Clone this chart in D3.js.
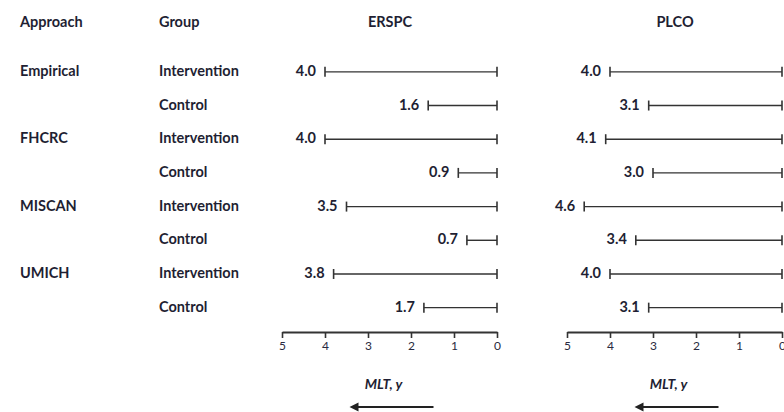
<!DOCTYPE html>
<html>
<head>
<meta charset="utf-8">
<script src="https://cdn.jsdelivr.net/npm/d3@7"></script>
<style>
  body { margin: 0; background: #fff; }
  text { font-family: Lato, "Open Sans", sans-serif; font-weight: bold; fill: #1f1f33; }
</style>
</head>
<body>
<div id="chart"></div>
<script>
var approaches = ["Empirical", "FHCRC", "MISCAN", "UMICH"];
var groups = ["Intervention", "Control"];
var trials = ["ERSPC", "PLCO"];
var valoresERSPC = [4.0, 1.6, 4.0, 0.9, 3.5, 0.7, 3.8, 1.7];
var valoresPLCO = [4.0, 3.1, 4.1, 3.0, 4.6, 3.4, 4.0, 3.1];
var ticks = [5, 4, 3, 2, 1, 0];

var width = 784, height = 412;
var tamLetra = "14.5px";
var svg = d3.select("#chart").append("svg")
    .attr("width", width)
    .attr("height", height);

// filas
var filas = [];
approaches.forEach(function (a, i) {
    groups.forEach(function (g, j) {
        filas.push({ approach: j == 0 ? a : "", group: g, idx: i * 2 + j });
    });
});

var y = d3.scaleBand()
    .domain(d3.range(filas.length))
    .range([55, 324.5]);

var escalas = [
    d3.scaleLinear().domain([5, 0]).range([282, 497]),
    d3.scaleLinear().domain([5, 0]).range([567, 782])
];
var datos = [valoresERSPC, valoresPLCO];

// encabezados
svg.append("text").attr("x", 20).attr("y", 27).style("font-size", tamLetra).text("Approach");
svg.append("text").attr("x", 159).attr("y", 27).style("font-size", tamLetra).text("Group");

trials.forEach(function (t, k) {
    svg.append("text")
        .attr("x", k == 0 ? 390 : 675)
        .attr("y", 27)
        .attr("text-anchor", "middle")
        .style("font-size", tamLetra)
        .text(t);
});

var fila = svg.selectAll(".fila")
    .data(filas)
    .enter().append("g")
    .attr("class", "fila")
    .attr("transform", function (d) { return "translate(0," + (y(d.idx) + y.bandwidth() / 2) + ")"; });

fila.append("text")
    .attr("x", 20).attr("dy", "0.28em")
    .style("font-size", tamLetra)
    .text(function (d) { return d.approach; });

fila.append("text")
    .attr("x", 159).attr("dy", "0.28em")
    .style("font-size", tamLetra)
    .text(function (d) { return d.group; });

escalas.forEach(function (x, k) {
    var vals = datos[k];
    var barra = svg.selectAll(".barra" + k)
        .data(vals)
        .enter().append("g")
        .attr("class", "barra" + k)
        .attr("transform", function (d, i) { return "translate(0," + (y(i) + y.bandwidth() / 2) + ")"; });

    barra.append("line")
        .attr("x1", function (d) { return x(d); })
        .attr("x2", x(0))
        .style("stroke", "#333").style("stroke-width", 1.4);
    barra.append("line")
        .attr("x1", function (d) { return x(d); })
        .attr("x2", function (d) { return x(d); })
        .attr("y1", -5).attr("y2", 5)
        .style("stroke", "#333").style("stroke-width", 1.6);
    barra.append("line")
        .attr("x1", x(0)).attr("x2", x(0))
        .attr("y1", -5).attr("y2", 5)
        .style("stroke", "#333").style("stroke-width", 1.6);
    barra.append("text")
        .attr("x", function (d) { return x(d) - 9; })
        .attr("dy", "0.28em")
        .attr("text-anchor", "end")
        .style("font-size", tamLetra)
        .text(function (d) { return d.toFixed(1); });

    var eje = svg.append("g")
        .attr("transform", "translate(0,332)")
        .call(d3.axisBottom(x).tickValues(ticks).tickSize(6).tickSizeOuter(0).tickFormat(d3.format("d")));
    eje.select(".domain").style("stroke", "#333").style("stroke-width", 1.8);
    eje.selectAll(".tick line").style("stroke", "#333").style("stroke-width", 1.6);
    eje.selectAll(".tick text")
        .attr("y", 9)
        .style("font-family", "Lato, sans-serif")
        .style("font-weight", "normal")
        .style("font-size", "12px")
        .style("fill", "#2a2a40");

    var cx = (x(5) + x(0)) / 2;
    svg.append("text")
        .attr("x", cx - 6).attr("y", 389)
        .attr("text-anchor", "middle")
        .style("font-size", "14px")
        .style("font-style", "italic")
        .text("MLT, y");
    svg.append("line")
        .attr("x1", cx + 44).attr("x2", cx - 34)
        .attr("y1", 407).attr("y2", 407)
        .style("stroke", "#222").style("stroke-width", 1.8);
    svg.append("path")
        .attr("d", "M" + (cx - 40) + ",407 L" + (cx - 31) + ",402.5 L" + (cx - 31) + ",411.5 Z")
        .style("fill", "#222");
});
</script>
</body>
</html>
